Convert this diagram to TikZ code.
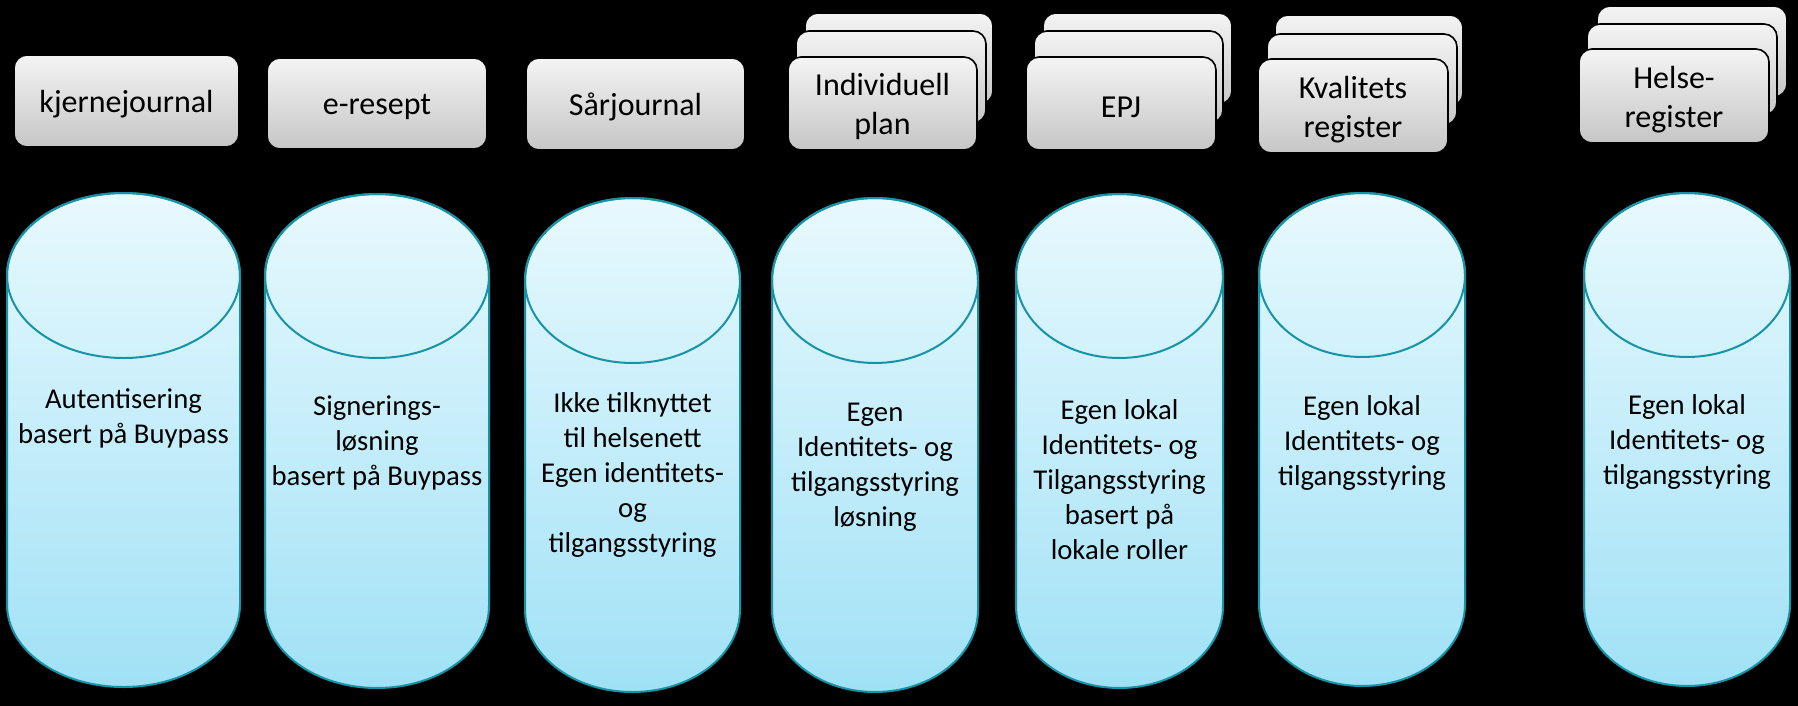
\documentclass[tikz,border=0pt]{standalone}
\usepackage{fontspec}
\setmainfont{Carlito}
\definecolor{cyltop}{RGB}{232,249,254}
\definecolor{cylbot}{RGB}{160,225,246}
\definecolor{cylline}{RGB}{22,148,166}
\definecolor{boxtop}{RGB}{244,244,244}
\definecolor{boxbot}{RGB}{198,198,198}
\tikzset{
  cylbody/.style={top color=cyltop,bottom color=cylbot,draw=cylline,line width=1pt},
  cylrim/.style={draw=cylline,line width=1pt},
  graybox/.style={rectangle,rounded corners=6.5pt,top color=boxtop,bottom color=boxbot,
    draw=black,line width=0.8pt,inner sep=0pt},
  boxlabel/.style={align=center,inner sep=0pt,font=\fontsize{16}{19.5}\selectfont},
  cyltext/.style={align=center,inner sep=0pt,font=\fontsize{14.35}{17.5}\selectfont}
}
% #1 left, #2 right, #3 top, #4 bottom, #5 ellipse half height (all px, y down)
\newcommand\mycylinder[5]{%
  \pgfmathsetmacro\cylCX{(#1+#2)/2}%
  \pgfmathsetmacro\cylRX{(#2-#1)/2}%
  \pgfmathsetmacro\cylTop{-(#3+#5)}%
  \pgfmathsetmacro\cylBot{-(#4-#5)}%
  \path[cylbody] (#1,\cylTop) -- (#1,\cylBot)
     arc[start angle=180,end angle=360,x radius=\cylRX,y radius=#5]
     -- (#2,\cylTop)
     arc[start angle=0,end angle=180,x radius=\cylRX,y radius=#5] -- cycle;
  \draw[cylrim] (\cylCX,\cylTop) ellipse[x radius=\cylRX,y radius=#5];
}
\begin{document}
\begin{tikzpicture}[x=0.5pt,y=0.5pt]
\useasboundingbox (0,0) rectangle (1798,-706);
\fill[black] (0,0) rectangle (1798,-706);

% top boxes
\node[graybox,minimum width=112.5pt,minimum height=46pt] (kj) at (126.5,-101) {};
\node[graybox,minimum width=110pt,minimum height=45.5pt] (er) at (377,-103.5) {};
\node[graybox,minimum width=109.5pt,minimum height=46pt] (sj) at (635.5,-104) {};

% stack 1
\node[graybox,minimum width=94pt,minimum height=45.5pt] (ip3) at (899,-58.5) {};
\node[graybox,minimum width=95pt,minimum height=46pt] (ip2) at (891,-77) {};
\node[graybox,minimum width=94.5pt,minimum height=46.5pt] (ip1) at (882.5,-103.5) {};
% stack 2
\node[graybox,minimum width=94.5pt,minimum height=45.5pt] (epj3) at (1137.5,-58.5) {};
\node[graybox,minimum width=94.5pt,minimum height=46pt] (epj2) at (1128.5,-77) {};
\node[graybox,minimum width=95pt,minimum height=46.5pt] (epj1) at (1121,-103.5) {};
% stack 3
\node[graybox,minimum width=94pt,minimum height=45.5pt] (kv3) at (1369,-60.5) {};
\node[graybox,minimum width=95pt,minimum height=45.5pt] (kv2) at (1362,-79.5) {};
\node[graybox,minimum width=95pt,minimum height=47pt] (kv1) at (1353,-106) {};
% stack 4
\node[graybox,minimum width=95pt,minimum height=45.5pt] (hr3) at (1692,-51.5) {};
\node[graybox,minimum width=95pt,minimum height=45.5pt] (hr2) at (1682,-69.5) {};
\node[graybox,minimum width=95pt,minimum height=47pt] (hr1) at (1674,-96) {};

% box labels
\node[boxlabel] (kjt) at ([yshift=-1.7pt]kj.center) {kjernejournal};
\node[boxlabel] (ert) at ([yshift=-1.7pt]er.center) {e-resept};
\node[boxlabel] (sjt) at ([yshift=-1.7pt]sj.center) {Sårjournal};
\node[boxlabel] (ipt) at ([yshift=-1.7pt]ip1.center) {Individuell\\plan};
\node[boxlabel] (epjt) at ([yshift=-1.7pt]epj1.center) {EPJ};
\node[boxlabel] (kvt) at ([yshift=-1.7pt]kv1.center) {Kvalitets\\register};
\node[boxlabel] (hrt) at ([yshift=-1.7pt]hr1.center) {Helse-\\register};

% cylinders
\mycylinder{7}{240}{193}{687}{82.5}
\mycylinder{265}{489}{194}{688}{82}
\mycylinder{525}{740}{198}{692}{82.5}
\mycylinder{772}{978}{198}{692}{82.5}
\mycylinder{1016}{1223}{194}{688}{82}
\mycylinder{1259}{1465}{193}{686}{82}
\mycylinder{1584}{1790}{193}{686}{82}

\node[cyltext] (t1) at (123.5,-418) {Autentisering\\basert på Buypass};
\node[cyltext] (t2) at (377,-443) {Signerings-\\løsning\\basert på Buypass};
\node[cyltext] (t3) at (632.5,-475) {Ikke tilknyttet\\til helsenett\\Egen identitets-\\og\\tilgangsstyring};
\node[cyltext] (t4) at (875,-467) {Egen\\Identitets- og\\tilgangsstyring\\løsning};
\node[cyltext] (t5) at (1119.5,-480) {Egen lokal\\Identitets- og\\Tilgangsstyring\\basert på\\lokale roller};
\node[cyltext] (t6) at (1362,-443) {Egen lokal\\Identitets- og\\tilgangsstyring};
\node[cyltext] (t7) at (1687,-442) {Egen lokal\\Identitets- og\\tilgangsstyring};
\end{tikzpicture}
\end{document}
